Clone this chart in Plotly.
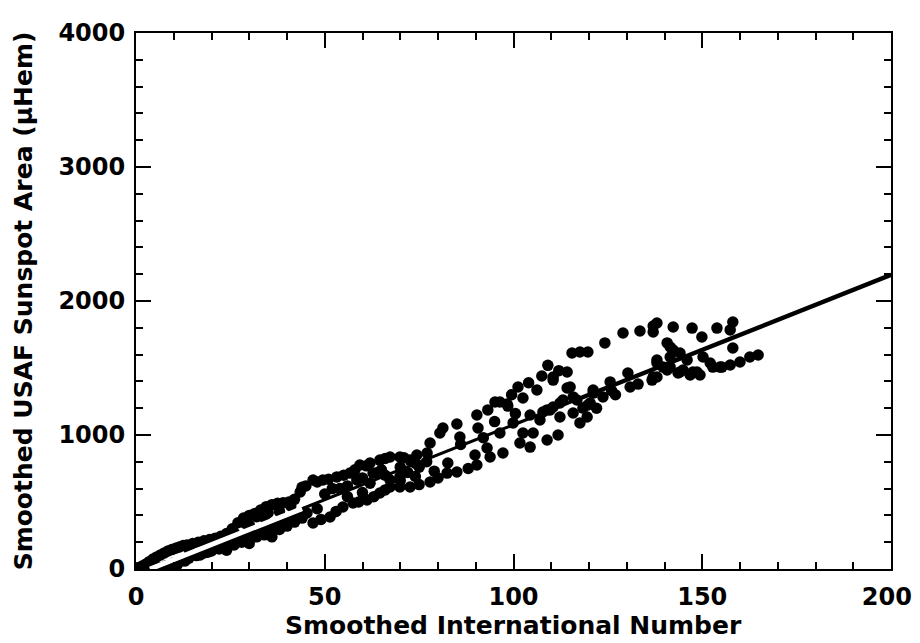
import plotly.graph_objects as go

# ---- data ----
# lower-left, upper branch
ll_up_x = [0.5, 1.5, 2.5, 3.5, 4.5, 5.5, 6.5, 7.5, 8.5, 9.5, 10.5, 11.5, 12.5, 13.5, 15, 16.5, 18, 19.5,
           21, 22.5, 24, 25.5, 27, 28.5, 30, 31.5, 33, 34.5, 36, 37.5, 39, 40.5, 42, 43.5, 45,
           14, 19, 26, 30, 34, 38, 41, 29, 32, 35]
ll_up_y = [10, 20, 35, 55, 75, 90, 105, 120, 135, 145, 155, 165, 175, 180, 190, 200, 210, 220,
           230, 245, 265, 300, 345, 380, 400, 415, 440, 465, 480, 490, 495, 500, 520, 575, 620,
           150, 185, 270, 330, 385, 430, 470, 340, 390, 420]
# lower-left, lower branch
ll_lo_x = [4, 6, 8, 10, 12, 14, 16, 18, 20, 22, 24, 26, 28, 30, 32, 34, 36, 38, 40, 42, 44,
           15, 21, 27, 33, 39, 24, 30, 36,
           9, 11, 13, 17, 19, 23, 25, 29, 31, 35, 37, 41, 43]
ll_lo_y = [0, 10, 25, 45, 60, 80, 100, 120, 135, 150, 165, 180, 200, 220, 240, 255, 275, 295, 320, 350, 380,
           110, 170, 230, 290, 345, 140, 190, 240,
           15, 35, 60, 105, 125, 170, 195, 240, 260, 305, 325, 370, 395]
# middle, upper branch
mid_up_x = [46.9, 49.5, 53.2, 56.7, 59.3, 62, 64.6, 67.3, 69.9, 72.6, 74.4, 77.1, 44, 48, 51, 55, 58, 61, 66, 71,
            58.5, 62.8, 67.3, 69.9, 65, 72, 75, 77, 50, 52, 56, 60, 64, 54, 62, 66, 70, 74]
mid_up_y = [664, 664, 687, 716, 776, 791, 813, 836, 836, 813, 851, 866, 610, 650, 670, 700, 740, 770, 825, 830,
            664, 716, 664, 687, 740, 720, 760, 800, 560, 600, 620, 680, 720, 600, 640, 700, 760, 790]
# middle, lower branch
mid_lo_x = [45.3, 46.9, 49, 51.4, 53, 54.8, 57.5, 59, 61.2, 63, 64.6, 66, 67.3, 69.9, 72.6, 75, 77.9, 80,
            82.4, 85, 88, 90.3, 93.8, 97.2, 101.7, 104.4, 108.9, 111.8, 48, 56, 60, 70, 74, 79]
mid_lo_y = [418, 343, 370, 388, 430, 463, 493, 500, 515, 540, 567, 590, 612, 612, 612, 630, 649, 680,
            716, 724, 750, 776, 836, 866, 940, 910, 963, 1000, 450, 540, 570, 660, 690, 730]
# rising upper loop
up_loop_x = [77.9, 80.5, 81.3, 85, 85.8, 90.3, 90.6, 93.2, 95.1, 98.5, 101.2, 102.5, 106.2, 109.1, 110.5,
             114.2, 115, 115.8, 115.5, 117.6, 119.7, 121.1, 124.2, 129, 133.5, 137, 99.5, 104, 107.5, 112]
up_loop_y = [940, 1015, 1052, 1082, 985, 1149, 1052, 1187, 1246, 1216, 1358, 1276, 1336, 1520, 1410,
             1470, 1358, 1284, 1612, 1619, 1619, 1336, 1687, 1761, 1776, 1813, 1300, 1390, 1440, 1480]
# inner points of the middle cloud
inner_x = [82.6, 89.8, 93, 96.4, 99.9, 102.5, 105.2, 107, 108.9, 110.5, 113.1, 112.3, 115.8, 118.4, 120.3,
           119.5, 117.6, 104.4, 107.8, 109.7, 112.3, 114.2, 116.8, 119.7, 121.1, 123.7, 125.6, 130.3,
           130.9, 136.7, 138, 137, 110.5, 96.4, 98.3, 127, 133, 86, 92, 95, 100.5, 122, 126]
inner_y = [791, 851, 903, 1015, 1090, 1015, 1015, 1112, 1187, 1209, 1261, 1134, 1164, 1201, 1239,
           1134, 1090, 1149, 1172, 1187, 1239, 1351, 1261, 1224, 1313, 1284, 1396, 1463,
           1358, 1410, 1433, 1433, 1433, 1246, 1231, 1300, 1380, 930, 980, 1100, 1160, 1200, 1330]
# high activity, upper group
hi_up_x = [138, 140.7, 142.3, 144.1, 142.3, 147.3, 153.9, 158.1, 149.9, 158.1, 157.4, 138, 137, 141.5, 141.5]
hi_up_y = [1560, 1687, 1634, 1612, 1806, 1798, 1798, 1843, 1731, 1649, 1784, 1836, 1769, 1657, 1582]
# high activity, lower group
hi_lo_x = [141.5, 144.1, 147.5, 149.4, 152.1, 154.7, 157.4, 160, 162.6, 164.8, 146, 150.2, 140.7, 139.6,
           138, 143.6, 144.9, 146.8, 148.6, 152.8, 155.2]
hi_lo_y = [1507, 1470, 1470, 1448, 1537, 1507, 1522, 1545, 1582, 1597, 1560, 1582, 1485, 1507,
           1537, 1463, 1485, 1448, 1470, 1507, 1507]

# linear fit
fit_slope = 11.18
fit_intercept = -41.4
fit_white_x = [3.7, 44]
fit_thin_x = [44, 118]
fit_thick_x = [118, 200]

x_ticks = [0, 50, 100, 150, 200]
x_ticktext = ["0", "50", "100", "150", "200\u00a0"]
y_ticks = [0, 1000, 2000, 3000, 4000]
y_ticktext = ["0", "1000", "2000", "3000", "4000"]

x_title = "Smoothed International Number"
y_title = "Smoothed USAF Sunspot Area (μHem)"

xs = ll_up_x + ll_lo_x + mid_up_x + mid_lo_x + up_loop_x + inner_x + hi_up_x + hi_lo_x
ys = ll_up_y + ll_lo_y + mid_up_y + mid_lo_y + up_loop_y + inner_y + hi_up_y + hi_lo_y

def fit(xv):
    return [fit_slope * v + fit_intercept for v in xv]

FONT = "DejaVu Sans, Arial, sans-serif"

fig = go.Figure()
fig.add_trace(go.Scatter(x=xs, y=ys, mode="markers",
                         marker=dict(color="black", size=11.5, line=dict(width=0)),
                         hoverinfo="skip"))
fig.add_trace(go.Scatter(x=fit_white_x, y=fit(fit_white_x), mode="lines",
                         line=dict(color="white", width=5)))
fig.add_trace(go.Scatter(x=fit_thin_x, y=fit(fit_thin_x), mode="lines",
                         line=dict(color="black", width=3.2)))
fig.add_trace(go.Scatter(x=fit_thick_x, y=fit(fit_thick_x), mode="lines",
                         line=dict(color="black", width=4.5)))

axis_common = dict(
    showline=True, linecolor="black", linewidth=2,
    mirror="allticks", ticks="inside", ticklen=15, tickwidth=2, tickcolor="black",
    showgrid=False, zeroline=False, automargin=False, ticklabeloverflow="allow",
    tickfont=dict(family=FONT, size=24, color="black", weight="bold"),
)

fig.update_layout(
    width=912, height=635,
    margin=dict(l=128, r=29, t=25, b=74),
    paper_bgcolor="white", plot_bgcolor="white",
    showlegend=False,
    xaxis=dict(range=[0, 200], tickvals=x_ticks, ticktext=x_ticktext,
               minor=dict(dtick=10, ticklen=7, tickwidth=2, tickcolor="black", ticks="inside"),
               ticklabelstandoff=5,
               **axis_common),
    yaxis=dict(range=[0, 4000], tickvals=y_ticks, ticktext=y_ticktext,
               minor=dict(dtick=200, ticklen=7, tickwidth=2, tickcolor="black", ticks="inside"),
               ticklabelstandoff=4,
               title=dict(text=y_title,
                          font=dict(family=FONT, size=25, color="black", weight="bold"),
                          standoff=19),
               **axis_common),
    annotations=[dict(text=x_title, xref="paper", yref="paper", x=0.5, y=0,
                      xanchor="center", yanchor="middle", yshift=-56, showarrow=False,
                      font=dict(family=FONT, size=25, color="black", weight="bold"))],
)

fig.write_html("out.html")
